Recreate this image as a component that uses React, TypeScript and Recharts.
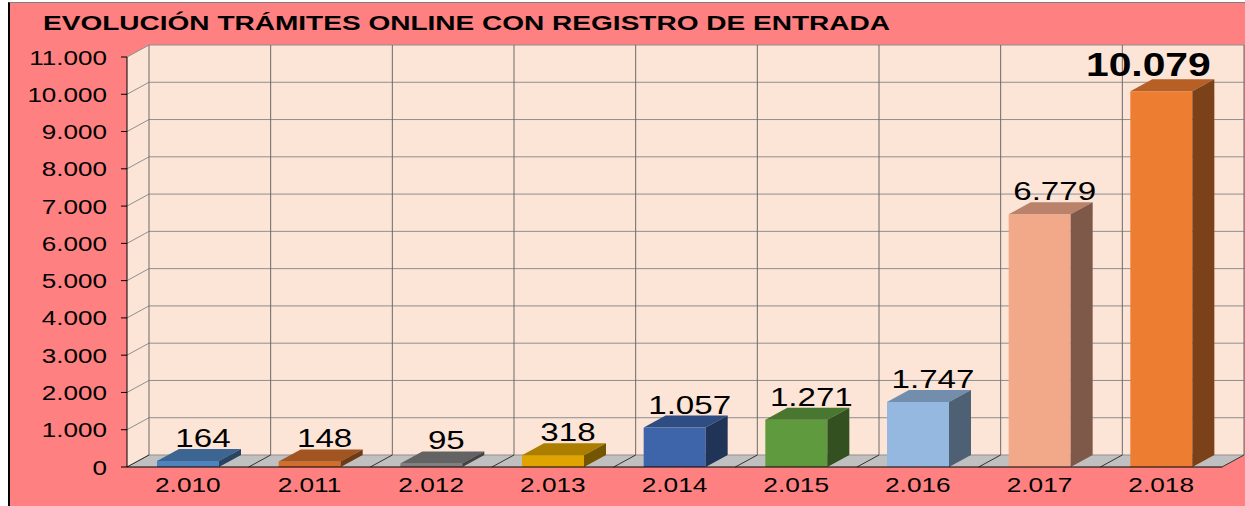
import React from 'react';
import { BarChart, Bar, XAxis, YAxis, ReferenceArea, ReferenceLine, LabelList } from 'recharts';

const years = ['2.010', '2.011', '2.012', '2.013', '2.014', '2.015', '2.016', '2.017', '2.018'];
const tramites = [164, 148, 95, 318, 1057, 1271, 1747, 6779, 10079];
const yTicks = [0, 1000, 2000, 3000, 4000, 5000, 6000, 7000, 8000, 9000, 10000, 11000];
const barColors = ['#4F83BE', '#D26E2A', '#808080', '#E0A400', '#3E64AA', '#609A3E', '#95B8E0', '#F2A98A', '#ED7D31'];
const title = 'EVOLUCIÓN TRÁMITES ONLINE CON REGISTRO DE ENTRADA';

const data = years.map((year, i) => ({ year, value: tramites[i] }));

const DX = 22;
const DY = 12;
const FONT = '"Liberation Sans", Arial, sans-serif';
const WALL = '#FCE4D6';

function shade(hex: string, f: number) {
  const n = parseInt(hex.slice(1), 16);
  const r = Math.round(((n >> 16) & 255) * f);
  const g = Math.round(((n >> 8) & 255) * f);
  const b = Math.round((n & 255) * f);
  return `rgb(${r},${g},${b})`;
}

const fmt = (v: number) => String(v).replace(/\B(?=(\d{3})+(?!\d))/g, '.');

const Walls = (p: any) => {
  const { x, y, width, height } = p;
  const b = y + height;
  const r = x + width;
  return (
    <g>
      <rect x={x + DX} y={y - DY} width={width} height={height} fill={WALL} />
      <polygon points={`${x},${y} ${x + DX},${y - DY} ${x + DX},${b - DY} ${x},${b}`} fill={WALL} />
      <polygon points={`${x},${b} ${x + DX},${b - DY} ${r + DX},${b - DY} ${r},${b}`} fill="#C0C0C0" />
    </g>
  );
};

const HGrid = (p: any) => {
  const { x1, y1, x2 } = p;
  const l = Math.min(x1, x2);
  const r = Math.max(x1, x2);
  return <path d={`M${l},${y1}L${l + DX},${y1 - DY}H${r + DX}`} stroke="#8f8f8f" strokeWidth={1} fill="none" />;
};

const VGrid = (p: any) => {
  const { x1, y1, y2 } = p;
  const t = Math.min(y1, y2);
  const b = Math.max(y1, y2);
  return (
    <g>
      <line x1={x1 + DX} y1={t - DY} x2={x1 + DX} y2={b - DY} stroke="#6a6a6a" strokeWidth={1} />
      <line x1={x1} y1={b} x2={x1 + DX} y2={b - DY} stroke="#333" strokeWidth={1} />
    </g>
  );
};

const Bar3D = (props: any) => {
  const { x, y, width, height, index } = props;
  const c = barColors[index % barColors.length];
  const top = shade(c, 0.77);
  const side = shade(c, 0.52);
  const b = y + height;
  const r = x + width;
  return (
    <g>
      <rect x={x} y={y} width={width} height={height} fill={c} />
      <polygon points={`${x},${y} ${x + DX},${y - DY} ${r + DX},${y - DY} ${r},${y}`} fill={top} />
      <polygon points={`${r},${y} ${r + DX},${y - DY} ${r + DX},${b - DY} ${r},${b}`} fill={side} />
    </g>
  );
};

const renderLabel = (p: any) => {
  const vb = p.x !== undefined ? p : p.viewBox || {};
  const { x, y, width } = vb;
  const value = p.value;
  let index = p.index;
  if (index === undefined) index = tramites.indexOf(Number(value));
  const last = index === tramites.length - 1;
  const cx = x + width / 2 + (last ? -13 : 15);
  const by = y - (last ? 15 : 14);
  return (
    <g transform={`translate(${cx},${by})`}>
      <text
        transform={`scale(${last ? 1.2 : 1.25},1)`}
        textAnchor="middle"
        fontSize={last ? 34 : 26.5}
        fontWeight={last ? 700 : 400}
        fontFamily={FONT}
        fill="#000"
      >
        {fmt(Number(value))}
      </text>
    </g>
  );
};

const YTick = (p: any) => {
  const { x, y, payload } = p;
  return (
    <g transform={`translate(${x},${y})`}>
      <text transform="scale(1.24,1)" textAnchor="end" dy="0.36em" fontSize={21} fontFamily={FONT} fill="#000">
        {fmt(payload.value)}
      </text>
    </g>
  );
};

const XTick = (p: any) => {
  const { x, y, payload } = p;
  return (
    <g transform={`translate(${x},${y})`}>
      <text transform="scale(1.25,1)" textAnchor="middle" y={25} fontSize={21} fontFamily={FONT} fill="#000">
        {payload.value}
      </text>
    </g>
  );
};

export default function App() {
  return (
    <div style={{ position: 'absolute', left: 0, top: 0, width: 1245, height: 506, background: '#fff', overflow: 'hidden' }}>
      <div
        style={{
          position: 'absolute',
          left: 8,
          top: 2,
          width: 1260,
          height: 520,
          background: '#FF8080',
          borderLeft: '2px solid #000',
          borderTop: '1px solid #7f7f7f',
        }}
      />
      <svg style={{ position: 'absolute', left: 0, top: 0 }} width={1245} height={506}>
        <text
          x={43}
          y={30}
          textLength={847}
          lengthAdjust="spacingAndGlyphs"
          fontSize={20}
          fontWeight={700}
          fontFamily={FONT}
          fill="#000"
        >
          {title}
        </text>
      </svg>
      <div style={{ position: 'absolute', left: 0, top: 0 }}>
        <BarChart width={1245} height={506} data={data} margin={{ top: 57, right: 23, left: 0, bottom: 0 }}>
          <ReferenceArea y1={0} y2={11000} shape={Walls} zIndex={-100} ifOverflow="visible" />
          {yTicks.map((t) => (
            <ReferenceLine key={'h' + t} y={t} shape={HGrid} zIndex={-90} ifOverflow="visible" />
          ))}
          {years.map((yr) => (
            <ReferenceLine key={'v' + yr} x={yr} position="start" shape={VGrid} zIndex={-80} ifOverflow="visible" />
          ))}
          <ReferenceLine x={years[years.length - 1]} position="end" shape={VGrid} zIndex={-80} ifOverflow="visible" />
          <XAxis
            dataKey="year"
            type="category"
            tickLine={false}
            axisLine={{ stroke: '#000' }}
            tick={<XTick />}
            tickSize={0}
            tickMargin={0}
            interval={0}
            height={39}
          />
          <YAxis
            type="number"
            domain={[0, 11000]}
            ticks={yTicks}
            interval={0}
            width={127}
            tickSize={6}
            tickMargin={14}
            tickLine={{ stroke: '#000' }}
            axisLine={{ stroke: '#000' }}
            tick={<YTick />}
          />
          <Bar dataKey="value" barSize={62} shape={Bar3D} isAnimationActive={false}>
            <LabelList dataKey="value" content={renderLabel} />
          </Bar>
        </BarChart>
      </div>
    </div>
  );
}
